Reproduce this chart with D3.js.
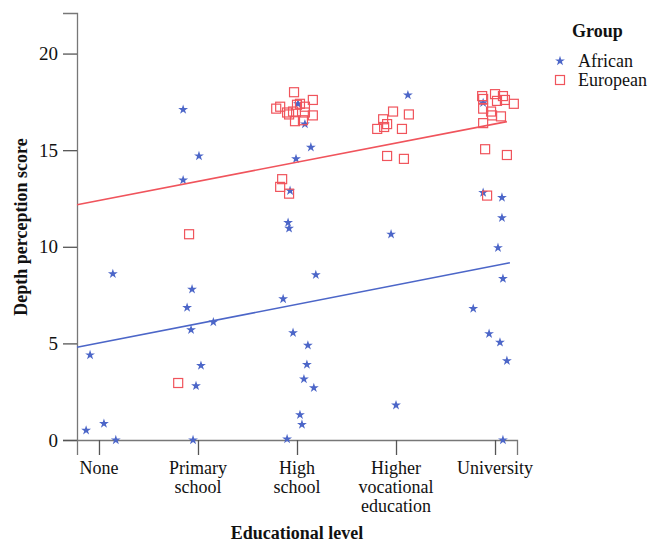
<!DOCTYPE html>
<html>
<head>
<meta charset="utf-8">
<script src="https://cdn.jsdelivr.net/npm/d3@7"></script>
<style>
  body { margin: 0; background: #fff; }
  svg text { font-family: "Liberation Serif", "Times New Roman", serif; fill: #111; }
</style>
</head>
<body>
<svg id="chart"></svg>
<script>
// categories on the x axis (label lines split for wrapping)
const levels = ['None', 'Primary school', 'High school', 'Higher vocational education', 'University']
const levelLines = [['None'], ['Primary', 'school'], ['High', 'school'], ['Higher', 'vocational', 'education'], ['University']]
const yTicks = [0, 5, 10, 15, 20]

// [level, jitter (fraction of a category step), score]
const african = [
  ['None', 0.14, 8.6], ['None', -0.09, 4.4], ['None', -0.13, 0.5], ['None', 0.05, 0.85], ['None', 0.17, 0],
  ['Primary school', -0.06, 7.8], ['Primary school', -0.11, 6.85], ['Primary school', -0.07, 5.7],
  ['Primary school', 0.155, 6.1], ['Primary school', 0.03, 3.85], ['Primary school', -0.02, 2.8],
  ['Primary school', -0.05, 0], ['Primary school', -0.15, 17.1], ['Primary school', 0.01, 14.7],
  ['Primary school', -0.15, 13.45],
  ['High school', 0.01, 17.4], ['High school', 0.08, 16.35], ['High school', 0.14, 15.15],
  ['High school', -0.01, 14.55], ['High school', -0.07, 12.9], ['High school', -0.09, 11.25],
  ['High school', -0.08, 10.95], ['High school', 0.19, 8.55], ['High school', -0.14, 7.3],
  ['High school', -0.04, 5.55], ['High school', 0.11, 4.9], ['High school', 0.10, 3.9],
  ['High school', 0.07, 3.15], ['High school', 0.17, 2.7], ['High school', 0.03, 1.3],
  ['High school', 0.05, 0.8], ['High school', -0.10, 0.05],
  ['Higher vocational education', 0.12, 17.85], ['Higher vocational education', -0.05, 10.65],
  ['Higher vocational education', 0.0, 1.8],
  ['University', -0.12, 17.45], ['University', -0.12, 12.8], ['University', 0.07, 12.55],
  ['University', 0.07, 11.5], ['University', 0.03, 9.95], ['University', 0.08, 8.35],
  ['University', -0.22, 6.8], ['University', -0.06, 5.5], ['University', 0.05, 5.05],
  ['University', 0.12, 4.1], ['University', 0.08, 0]
]

const european = [
  ['Primary school', -0.20, 2.95], ['Primary school', -0.09, 10.65],
  ['High school', -0.03, 18.0], ['High school', 0.16, 17.6], ['High school', -0.21, 17.15],
  ['High school', -0.17, 17.25], ['High school', -0.10, 16.95], ['High school', 0.0, 17.35],
  ['High school', 0.03, 17.4], ['High school', 0.08, 17.25], ['High school', -0.04, 17.0],
  ['High school', 0.08, 16.95], ['High school', 0.16, 16.8], ['High school', -0.02, 16.5],
  ['High school', 0.06, 16.55], ['High school', -0.08, 16.85], ['High school', -0.15, 13.5],
  ['High school', -0.17, 13.1], ['High school', -0.08, 12.75],
  ['Higher vocational education', -0.03, 17.0], ['Higher vocational education', 0.13, 16.85],
  ['Higher vocational education', -0.13, 16.6], ['Higher vocational education', -0.09, 16.35],
  ['Higher vocational education', -0.12, 16.2], ['Higher vocational education', -0.19, 16.1],
  ['Higher vocational education', 0.06, 16.1], ['Higher vocational education', -0.09, 14.7],
  ['Higher vocational education', 0.08, 14.55],
  ['University', -0.13, 17.8], ['University', -0.12, 17.65], ['University', 0.0, 17.9],
  ['University', 0.02, 17.55], ['University', 0.08, 17.8], ['University', 0.10, 17.6],
  ['University', 0.19, 17.4], ['University', -0.12, 17.15], ['University', -0.04, 17.0],
  ['University', -0.03, 16.8], ['University', 0.06, 16.75], ['University', -0.12, 16.4],
  ['University', -0.10, 15.05], ['University', 0.12, 14.75], ['University', -0.08, 12.65]
]

// linear fit lines: score = intercept + slope * level index (None = 1)
const fitAfrican = { intercept: 4.02, slope: 1.0, from: 0.778, to: 5.15 }
const fitEuropean = { intercept: 11.41, slope: 0.99, from: 0.778, to: 5.12 }

const width = 650
const height = 543
const blue = '#4c66c8'
const red = '#f0545c'

const svg = d3.select('#chart')
  .attr('width', width)
  .attr('height', height)

// Scales
const x = d3.scalePoint()
  .domain(levels)
  .range([77, 517])
  .padding(0.222)
const step = x.step()
const xIndex = i => x(levels[0]) + (i - 1) * step

const y = d3.scaleLinear()
  .domain([0, 22.1])
  .range([440, 13])

// Y axis
const yAxis = svg.append('g')
  .attr('transform', 'translate(77,0)')
  .call(d3.axisLeft(y).tickValues(yTicks).tickSize(14).tickPadding(5))
yAxis.select('.domain').attr('stroke', '#777').attr('stroke-width', 1.3)
yAxis.selectAll('.tick line').attr('stroke', '#555').attr('stroke-width', 1.3)
yAxis.selectAll('.tick text')
  .style('font-size', '19px')
  .style('font-family', '"Liberation Serif", serif')
  .attr('fill', '#111')

// X axis
const xAxis = svg.append('g')
  .attr('transform', 'translate(0,440)')
  .call(d3.axisBottom(x).tickSize(15).tickFormat(''))
xAxis.select('.domain').attr('stroke', '#777').attr('stroke-width', 1.3)
xAxis.selectAll('.tick line').attr('stroke', '#555').attr('stroke-width', 1.3)

svg.append('g')
  .selectAll('text')
  .data(levels)
  .join('text')
  .attr('x', d => x(d))
  .attr('y', 474)
  .attr('text-anchor', 'middle')
  .style('font-size', '18px')
  .selectAll('tspan')
  .data((d, i) => levelLines[i])
  .join('tspan')
  .attr('x', function () { return d3.select(this.parentNode).attr('x') })
  .attr('dy', (d, i) => i === 0 ? 0 : 19)
  .text(d => d)

// Axis titles
svg.append('text')
  .attr('x', 297)
  .attr('y', 539)
  .attr('text-anchor', 'middle')
  .style('font-size', '18px')
  .style('font-weight', 'bold')
  .text('Educational level')

svg.append('text')
  .attr('transform', 'translate(27,227) rotate(-90)')
  .attr('text-anchor', 'middle')
  .style('font-size', '18px')
  .style('font-weight', 'bold')
  .text('Depth perception score')

function drawFit (fit, color) {
  svg.append('line')
    .attr('x1', xIndex(fit.from))
    .attr('y1', y(fit.intercept + fit.slope * fit.from))
    .attr('x2', xIndex(fit.to))
    .attr('y2', y(fit.intercept + fit.slope * fit.to))
    .attr('stroke', color)
    .attr('stroke-width', 1.6)
}

// Points
const star = d3.symbol().type(d3.symbolStar).size(30)
const pos = d => 'translate(' + (x(d[0]) + d[1] * step) + ',' + y(d[2]) + ')'

svg.append('g')
  .selectAll('path')
  .data(african)
  .join('path')
  .attr('d', star)
  .attr('transform', pos)
  .attr('fill', blue)

svg.append('g')
  .selectAll('rect')
  .data(european)
  .join('rect')
  .attr('x', -4.5)
  .attr('y', -4.5)
  .attr('width', 9)
  .attr('height', 9)
  .attr('transform', pos)
  .attr('fill', 'none')
  .attr('stroke', red)
  .attr('stroke-width', 1.2)

drawFit(fitEuropean, red)
drawFit(fitAfrican, blue)

// Legend
const legend = svg.append('g')
legend.append('text')
  .attr('x', 572)
  .attr('y', 37)
  .style('font-size', '18px')
  .style('font-weight', 'bold')
  .text('Group')

legend.append('path')
  .attr('d', star)
  .attr('transform', 'translate(560,61)')
  .attr('fill', blue)
legend.append('text')
  .attr('x', 578)
  .attr('y', 67)
  .style('font-size', '18px')
  .text('African')

legend.append('rect')
  .attr('x', 555.5)
  .attr('y', 75.5)
  .attr('width', 9)
  .attr('height', 9)
  .attr('fill', 'none')
  .attr('stroke', red)
  .attr('stroke-width', 1.2)
legend.append('text')
  .attr('x', 578)
  .attr('y', 86)
  .style('font-size', '18px')
  .text('European')
</script>
</body>
</html>
